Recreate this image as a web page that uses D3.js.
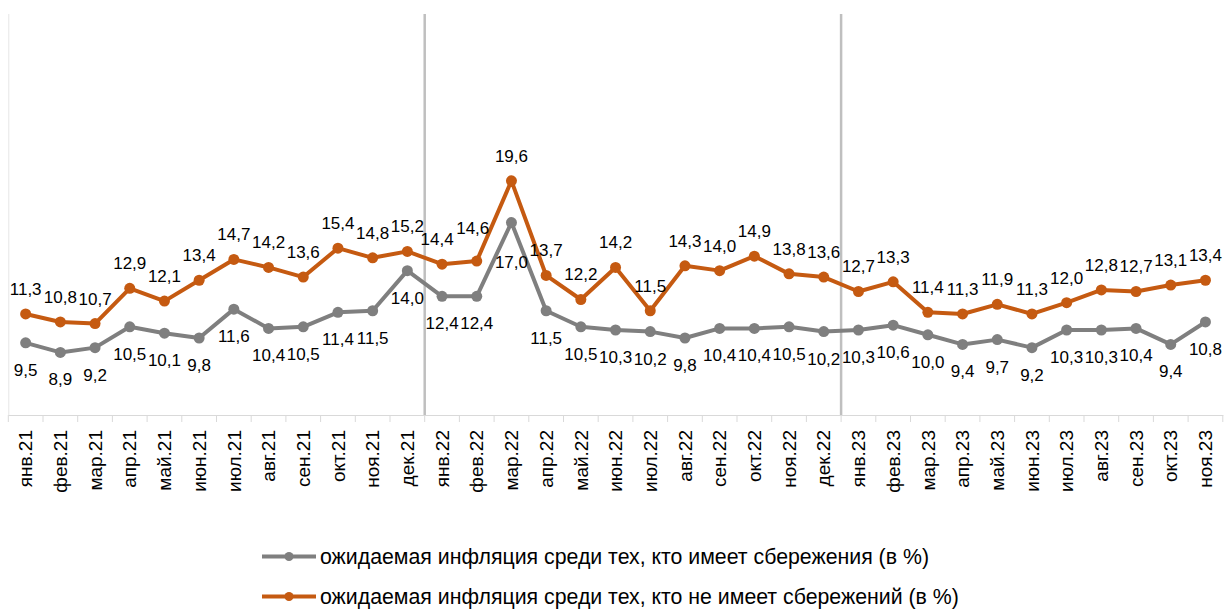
<!DOCTYPE html>
<html>
<head>
<meta charset="utf-8">
<script src="https://cdn.jsdelivr.net/npm/d3@7"></script>
<style>
html,body{margin:0;padding:0;background:#fff;}
svg{display:block;font-family:Arial,"Liberation Sans",sans-serif;}
</style>
</head>
<body>
<svg id="chart" width="1224" height="610"></svg>
<script>
const categories = ["янв.21","фев.21","мар.21","апр.21","май.21","июн.21","июл.21","авг.21","сен.21","окт.21","ноя.21","дек.21",
"янв.22","фев.22","мар.22","апр.22","май.22","июн.22","июл.22","авг.22","сен.22","окт.22","ноя.22","дек.22",
"янв.23","фев.23","мар.23","апр.23","май.23","июн.23","июл.23","авг.23","сен.23","окт.23","ноя.23"];
const withSavings = [9.5,8.9,9.2,10.5,10.1,9.8,11.6,10.4,10.5,11.4,11.5,14.0,
12.4,12.4,17.0,11.5,10.5,10.3,10.2,9.8,10.4,10.4,10.5,10.2,
10.3,10.6,10.0,9.4,9.7,9.2,10.3,10.3,10.4,9.4,10.8];
const withoutSavings = [11.3,10.8,10.7,12.9,12.1,13.4,14.7,14.2,13.6,15.4,14.8,15.2,
14.4,14.6,19.6,13.7,12.2,14.2,11.5,14.3,14.0,14.9,13.8,13.6,
12.7,13.3,11.4,11.3,11.9,11.3,12.0,12.8,12.7,13.1,13.4];
const seriesNames = ["ожидаемая инфляция среди тех, кто имеет сбережения (в %)",
"ожидаемая инфляция среди тех, кто не имеет сбережений (в %)"];
const yearStarts = ["янв.22","янв.23"];

(function(){
const svg = d3.select("#chart");
const pLeft = 8.3, pRight = 1222.8, pTop = 14, pBottom = 415;
const x = d3.scaleBand().domain(categories).range([pLeft, pRight]).padding(0);
const y = d3.scaleLinear().domain([5, 30]).range([pBottom, pTop]);
const cx = d => x(d) + x.bandwidth() / 2;

// y axis line (faint)
svg.append("line").attr("x1", pLeft+0.5).attr("x2", pLeft+0.5).attr("y1", pTop).attr("y2", pBottom)
  .attr("stroke", "#e6e6e6").attr("stroke-width", 1);

// year separators
yearStarts.forEach(c => {
  svg.append("line").attr("x1", x(c)).attr("x2", x(c)).attr("y1", pTop).attr("y2", pBottom)
    .attr("stroke", "#bfbfbf").attr("stroke-width", 2.5);
});

// x axis
const xAxis = d3.axisBottom(x).tickSizeInner(0).tickSizeOuter(0);
const gx = svg.append("g").attr("transform", `translate(0,${pBottom})`).call(xAxis);
gx.select(".domain").attr("stroke", "#d9d9d9").attr("stroke-width", 1);
gx.selectAll(".tick text")
  .attr("transform", "rotate(-90)")
  .attr("text-anchor", "end")
  .attr("x", -15).attr("y", 0).attr("dy", "0.35em")
  .attr("font-size", 19).attr("fill", "#000")
  .attr("font-family", "Arial, 'Liberation Sans', sans-serif");
// tick marks at band boundaries
const bounds = categories.map(c => x(c)).concat([pRight]);
svg.append("g").selectAll("line").data(bounds).join("line")
  .attr("x1", d => d).attr("x2", d => d).attr("y1", pBottom).attr("y2", pBottom + 7)
  .attr("stroke", "#d9d9d9").attr("stroke-width", 1);

const series = [
  {vals: withSavings, color: "#7f7f7f", labelDy: 27, nudge: {14: [0, 13]}},
  {vals: withoutSavings, color: "#c55a11", labelDy: -25, nudge: {12: [-5, 0], 13: [-4, -8]}}
];
const line = d3.line().x((d, i) => cx(categories[i])).y(d => y(d));
series.forEach(s => {
  svg.append("path").datum(s.vals).attr("d", line).attr("fill", "none")
    .attr("stroke", s.color).attr("stroke-width", 4).attr("stroke-linejoin", "round");
  svg.append("g").selectAll("circle").data(s.vals).join("circle")
    .attr("cx", (d, i) => cx(categories[i])).attr("cy", d => y(d)).attr("r", 5.5)
    .attr("fill", s.color);
});
const fmt = v => v.toFixed(1).replace(".", ",");
series.forEach(s => {
  svg.append("g").selectAll("text").data(s.vals).join("text")
    .attr("x", (d, i) => cx(categories[i]) + (s.nudge[i] ? s.nudge[i][0] : 0))
    .attr("y", (d, i) => y(d) + s.labelDy + (s.nudge[i] ? s.nudge[i][1] : 0))
    .attr("dy", "0.35em").attr("text-anchor", "middle")
    .attr("font-size", 17).attr("fill", "#000")
    .text(d => fmt(d));
});

// legend
const legY = [556.5, 596.5];
series.forEach((s, i) => {
  const g = svg.append("g");
  g.append("line").attr("x1", 262).attr("x2", 316).attr("y1", legY[i]).attr("y2", legY[i])
    .attr("stroke", s.color).attr("stroke-width", 4);
  g.append("circle").attr("cx", 289).attr("cy", legY[i]).attr("r", 4.5).attr("fill", s.color);
  g.append("text").attr("x", 320).attr("y", legY[i]).attr("dy", "0.35em")
    .attr("font-size", 21.3).attr("fill", "#000").text(seriesNames[i]);
});
})();
</script>
</body>
</html>
